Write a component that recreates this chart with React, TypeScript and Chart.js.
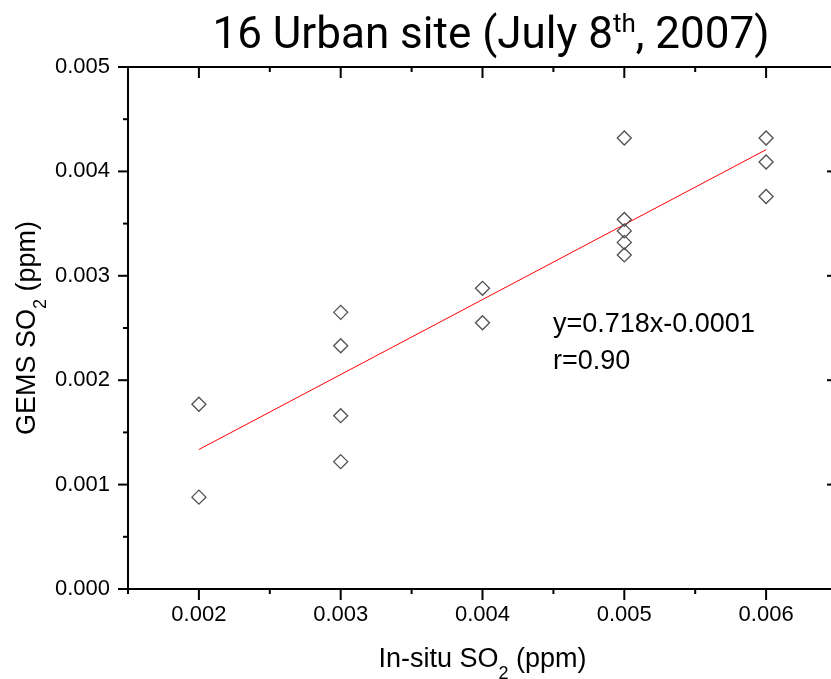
import { useEffect, useRef } from "react";
import { Chart, registerables } from "chart.js";

Chart.register(...registerables);

// In-situ vs. GEMS SO2 at the 16 urban sites (ppm)
const insituSO2 = [
  0.002, 0.002,
  0.003, 0.003, 0.003, 0.003,
  0.004, 0.004,
  0.005, 0.005, 0.005, 0.005, 0.005,
  0.006, 0.006, 0.006,
];
const gemsSO2 = [
  0.00177, 0.00088,
  0.00265, 0.00233, 0.00166, 0.00122,
  0.00288, 0.00255,
  0.00432, 0.00354, 0.00343, 0.00332, 0.0032,
  0.00432, 0.00409, 0.00376,
];

// Linear fit y = slope * x + intercept, drawn across the observed x range
const fitSlope = 0.718;
const fitIntercept = -0.0001;
const fitXRange = [0.002, 0.006];
const fitText = "y=0.718x-0.0001";
const corrText = "r=0.90";

const xTickValues = [0.002, 0.003, 0.004, 0.005, 0.006];
const xTickLabels = ["0.002", "0.003", "0.004", "0.005", "0.006"];
const yTickValues = [0, 0.001, 0.002, 0.003, 0.004, 0.005];
const yTickLabels = ["0.000", "0.001", "0.002", "0.003", "0.004", "0.005"];
const xRange = [0.0015, 0.0065];
const yRange = [0, 0.005];

const titleParts = ["16 Urban site (July 8", "th", ", 2007)"];
const xTitleParts = ["In-situ SO", "2", " (ppm)"];
const yTitleParts = ["GEMS SO", "2", " (ppm)"];

const W = 850;
const H = 679;
const SANS = "'Liberation Sans', Arial, sans-serif";
const TITLE_FONT = "Roboto, 'Noto Sans', sans-serif";

function isMajor(v: number) {
  const k = v * 1000;
  return Math.abs(k - Math.round(k)) < 1e-6;
}

function halfSteps(min: number, max: number) {
  const out: { value: number }[] = [];
  for (let k = Math.round(min * 2000); k <= Math.round(max * 2000); k++) {
    out.push({ value: k / 2000 });
  }
  return out;
}

function labelFor(values: number[], labels: string[], v: number) {
  const i = values.findIndex((t) => Math.abs(t - v) < 1e-9);
  return i >= 0 ? labels[i] : "";
}

type Part = { text: string; size: number; dy: number };

// Draws a run of text pieces (for sub/superscripts) centred on x at baseline y
function drawRich(ctx: CanvasRenderingContext2D, parts: Part[], family: string, x: number, y: number) {
  let total = 0;
  const widths = parts.map((p) => {
    ctx.font = `${p.size}px ${family}`;
    const w = ctx.measureText(p.text).width;
    total += w;
    return w;
  });
  let cx = x - total / 2;
  ctx.textAlign = "left";
  ctx.textBaseline = "alphabetic";
  parts.forEach((p, i) => {
    ctx.font = `${p.size}px ${family}`;
    ctx.fillText(p.text, cx, y + p.dy);
    cx += widths[i];
  });
}

const framePlugin = {
  id: "frame",
  afterDatasetsDraw(chart: any) {
    const { ctx, chartArea: a, scales } = chart;
    ctx.save();
    ctx.strokeStyle = "#000";
    ctx.fillStyle = "#000";
    ctx.lineWidth = 2;
    ctx.lineCap = "butt";
    ctx.strokeRect(a.left, a.top, a.right - a.left, a.bottom - a.top);

    const seg = (x1: number, y1: number, x2: number, y2: number) => {
      ctx.beginPath();
      ctx.moveTo(x1, y1);
      ctx.lineTo(x2, y2);
      ctx.stroke();
    };

    for (const t of scales.x.ticks) {
      const px = scales.x.getPixelForValue(t.value);
      const len = isMajor(t.value) ? 11 : 5;
      seg(px, a.bottom, px, a.bottom + len);
      seg(px, a.top, px, a.top + len);
    }
    for (const t of scales.y.ticks) {
      const py = scales.y.getPixelForValue(t.value);
      const len = isMajor(t.value) ? 10 : 5;
      seg(a.left - len, py, a.left, py);
      seg(a.right - len, py, a.right, py);
    }

    // chart title with superscript
    drawRich(
      ctx,
      [
        { text: titleParts[0], size: 44, dy: 0 },
        { text: titleParts[1], size: 26, dy: -16 },
        { text: titleParts[2], size: 44, dy: 0 },
      ],
      TITLE_FONT,
      491,
      48
    );

    // x-axis title
    const cxPlot = (a.left + a.right) / 2;
    drawRich(
      ctx,
      [
        { text: xTitleParts[0], size: 27, dy: 0 },
        { text: xTitleParts[1], size: 18, dy: 12 },
        { text: xTitleParts[2], size: 27, dy: 0 },
      ],
      SANS,
      cxPlot,
      667
    );

    // y-axis title, rotated
    ctx.save();
    ctx.translate(35, (a.top + a.bottom) / 2);
    ctx.rotate(-Math.PI / 2);
    drawRich(
      ctx,
      [
        { text: yTitleParts[0], size: 27, dy: 0 },
        { text: yTitleParts[1], size: 18, dy: 11 },
        { text: yTitleParts[2], size: 27, dy: 0 },
      ],
      SANS,
      0,
      0
    );
    ctx.restore();

    // fit equation and correlation
    ctx.font = `27px ${SANS}`;
    ctx.textAlign = "left";
    ctx.textBaseline = "alphabetic";
    ctx.fillText(fitText, 553, 332);
    ctx.fillText(corrText, 553, 369);
    ctx.restore();
  },
};

export default function App() {
  const canvasRef = useRef<HTMLCanvasElement | null>(null);

  useEffect(() => {
    document.body.style.margin = "0";
    const canvas = canvasRef.current;
    if (!canvas) return;

    const points = insituSO2.map((x, i) => ({ x, y: gemsSO2[i] }));
    const fitLine = fitXRange.map((x) => ({ x, y: fitSlope * x + fitIntercept }));

    const chart = new Chart(canvas, {
      type: "scatter",
      data: {
        datasets: [
          {
            label: "GEMS vs in-situ",
            data: points,
            pointStyle: "rectRot",
            pointRadius: 7,
            pointHoverRadius: 7,
            borderColor: "#505050",
            borderWidth: 1.3,
            backgroundColor: "rgba(0,0,0,0)",
          },
          {
            label: "Linear fit",
            data: fitLine,
            showLine: true,
            borderColor: "#ff0000",
            borderWidth: 1,
            pointRadius: 0,
            pointHoverRadius: 0,
          },
        ],
      },
      options: {
        responsive: false,
        animation: false,
        devicePixelRatio: 1,
        layout: { padding: { top: 67, left: 0, right: 10, bottom: 0 } },
        plugins: {
          legend: { display: false },
          tooltip: { enabled: false },
          title: { display: false },
        },
        scales: {
          x: {
            type: "linear",
            position: "bottom",
            min: xRange[0],
            max: xRange[1],
            afterBuildTicks: (s: any) => {
              s.ticks = halfSteps(xRange[0], xRange[1]);
            },
            afterFit: (s: any) => {
              s.height = H - 589;
            },
            grid: { display: false, drawTicks: false },
            border: { display: false },
            ticks: {
              autoSkip: false,
              maxRotation: 0,
              padding: 13,
              color: "#000",
              font: { family: SANS, size: 22 },
              callback: (v: any) => labelFor(xTickValues, xTickLabels, Number(v)),
            },
          },
          y: {
            type: "linear",
            position: "left",
            min: yRange[0],
            max: yRange[1],
            afterBuildTicks: (s: any) => {
              s.ticks = halfSteps(yRange[0], yRange[1]);
            },
            afterFit: (s: any) => {
              s.width = 128;
            },
            grid: { display: false, drawTicks: false },
            border: { display: false },
            ticks: {
              autoSkip: false,
              padding: 18,
              color: "#000",
              font: { family: SANS, size: 22 },
              callback: (v: any) => labelFor(yTickValues, yTickLabels, Number(v)),
            },
          },
        },
      },
      plugins: [framePlugin],
    } as any);

    return () => chart.destroy();
  }, []);

  return (
    <div style={{ position: "absolute", left: 0, top: 0, width: 831, height: 679, overflow: "hidden", background: "#fff" }}>
      <canvas ref={canvasRef} width={W} height={H} style={{ display: "block", width: W, height: H }} />
    </div>
  );
}
